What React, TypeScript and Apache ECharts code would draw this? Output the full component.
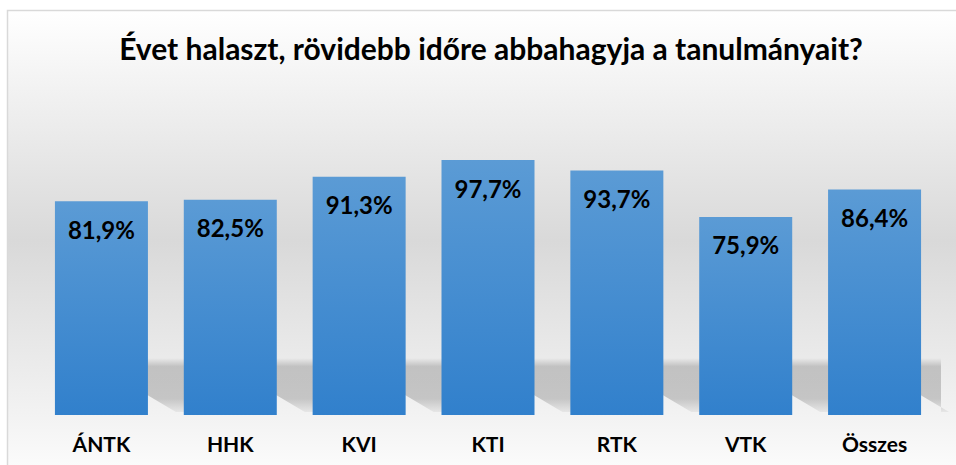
import React, { useEffect, useRef } from "react";
import * as echarts from "echarts";

const titleText = "Évet halaszt, rövidebb időre abbahagyja a tanulmányait?";
const categories = ["ÁNTK", "HHK", "KVI", "KTI", "RTK", "VTK", "Összes"];
const values = [81.9, 82.5, 91.3, 97.7, 93.7, 75.9, 86.4];

const fmt = (v: number) => v.toFixed(1).replace(".", ",") + "%";

export default function App() {
  const ref = useRef<HTMLDivElement>(null);
  useEffect(() => {
    document.body.style.margin = "0";
    const chart = echarts.init(ref.current!, null, { renderer: "svg" });
    const BAR_W = 93;
    chart.setOption({
      animation: false,
      backgroundColor: "#ffffff",
      graphic: [
        {
          type: "rect",
          z: -10,
          silent: true,
          shape: { x: 7.5, y: 10.5, width: 1000, height: 480 },
          style: {
            stroke: "#d9d9d9",
            lineWidth: 1.5,
            fill: new echarts.graphic.LinearGradient(0, 0, 0, 1, [
              { offset: 0, color: "#ffffff" },
              { offset: 0.48, color: "#d9d9d9" },
              { offset: 0.85, color: "#f3f3f3" },
              { offset: 1, color: "#ffffff" },
            ]),
          },
        },
      ],
      title: {
        text: titleText,
        left: 486,
        textAlign: "center",
        top: 28,
        textStyle: {
          fontFamily: "Lato",
          fontWeight: "bold",
          fontSize: 30,
          color: "#000000",
        },
      },
      grid: { left: 37, right: 17, top: 154, bottom: 50, containLabel: false },
      xAxis: {
        type: "category",
        data: categories,
        axisLine: { show: false },
        axisTick: { show: false },
        axisLabel: {
          margin: 18,
          fontFamily: "Lato",
          fontWeight: "bold",
          fontSize: 21,
          color: "#000000",
        },
      },
      yAxis: { type: "value", min: 0, max: 100, show: false, splitLine: { show: false } },
      series: [
        {
          type: "custom",
          z: 1,
          silent: true,
          data: values.map((v, i) => [i, v]),
          renderItem: (params: any, api: any) => {
            const idx = api.value(0);
            const base = api.coord([idx, 0]);
            const cs = params.coordSys;
            const xR = base[0] + BAR_W / 2;
            const bottom = base[1];
            const right = Math.min(xR + 60, cs.x + cs.width + 2);
            const top = bottom - 57;
            return {
              type: "polygon",
              shape: {
                points: [
                  [xR - 4, top],
                  [right, top],
                  [right, bottom - 3],
                  [xR + 28, bottom - 3],
                  [xR - 4, bottom - 22],
                ],
              },
              style: {
                fill: new echarts.graphic.LinearGradient(0, 0, 0, 1, [
                  { offset: 0, color: "rgba(0,0,0,0)" },
                  { offset: 0.16, color: "rgba(0,0,0,0.18)" },
                  { offset: 0.75, color: "rgba(0,0,0,0.18)" },
                  { offset: 1, color: "rgba(0,0,0,0.05)" },
                ]),
              },
            };
          },
        },
        {
          type: "bar",
          z: 2,
          data: values,
          barWidth: BAR_W,
          itemStyle: {
            color: new echarts.graphic.LinearGradient(0, 0, 0, 1, [
              { offset: 0, color: "#5b9bd5" },
              { offset: 1, color: "#3180cc" },
            ]),
          },
          label: {
            show: true,
            position: "insideTop",
            distance: 16,
            formatter: (p: any) => fmt(p.value),
            fontFamily: "Lato",
            fontWeight: "bold",
            fontSize: 24,
            color: "#000000",
          },
        },
      ],
    });
    return () => chart.dispose();
  }, []);
  return <div ref={ref} style={{ width: 956, height: 465 }} />;
}
